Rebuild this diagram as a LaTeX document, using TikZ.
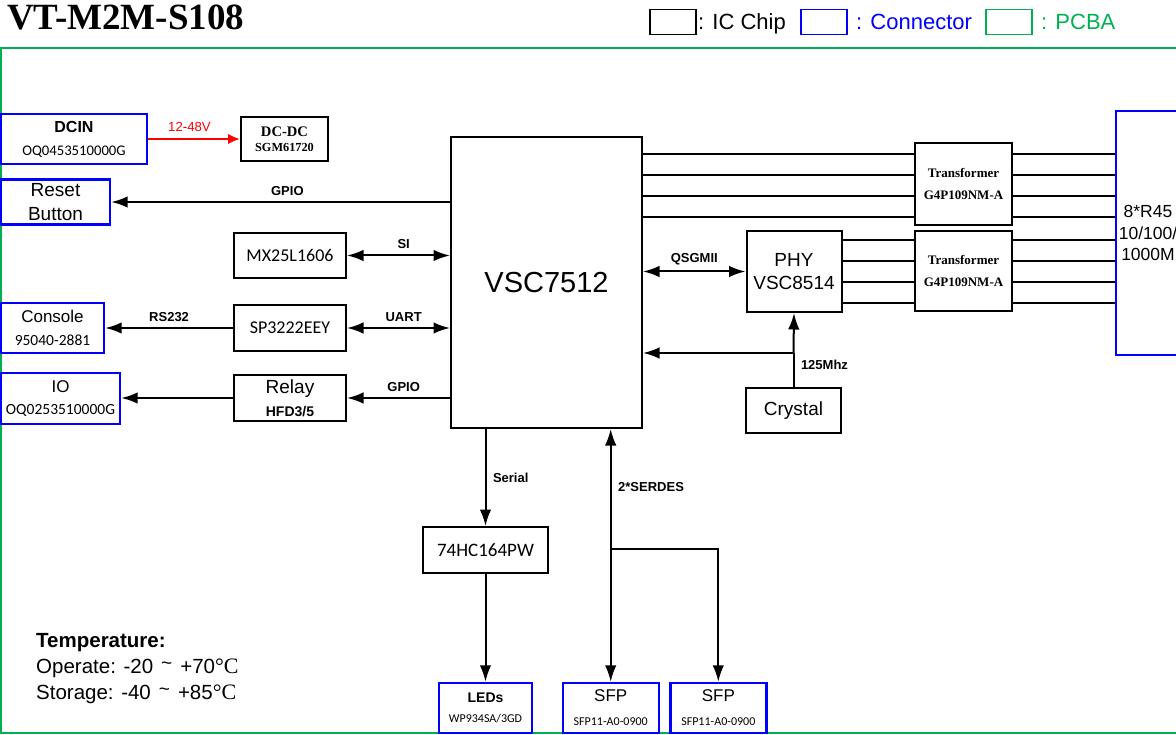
\documentclass[tikz,border=0pt]{standalone}
\usepackage{fontspec}
\setmainfont{Liberation Sans}
\newfontfamily\timesrm{Liberation Serif}
\newfontfamily\calibri{Carlito}
\usetikzlibrary{positioning,arrows.meta}
\newcommand\setfs[2]{\fontsize{#1}{#2}\selectfont}
\newcommand\tld{\hspace*{8pt}{\setfs{19}{19}\raisebox{4pt}{\textasciitilde}}\hspace*{8pt}}
\newcommand\degc{{\timesrm\setfs{22}{26}°C}}
\definecolor{pcbgreen}{RGB}{0,176,80}
\definecolor{conblue}{RGB}{0,0,255}
\tikzset{
  chip/.style={draw, line width=2pt, fill=white, inner sep=0pt, align=center},
  connbox/.style={draw=conblue, line width=2.4pt, fill=white, inner sep=0pt, align=center},
  wire/.style={line width=2pt},
  flowarrow/.style={wire, -{Latex[length=16.5pt,width=11.5pt]}},
  dualarrow/.style={wire, {Latex[length=16.5pt,width=11.5pt]}-{Latex[length=16.5pt,width=11.5pt]}},
  powerarrow/.style={line width=2.2pt, red, -{Latex[length=12pt,width=10.5pt]}},
  siglabel/.style={font=\bfseries\setfs{13}{15}, inner sep=2.5pt},
  keytext/.style={anchor=base west, inner sep=0pt, font=\setfs{22}{24}}
}

\begin{document}
\begin{tikzpicture}[x=1pt, y=-1pt, >=Latex]
  \useasboundingbox (0,0) rectangle (1176,735);
  \node[anchor=base west, inner sep=0pt, font=\timesrm\bfseries\setfs{37}{40}] (title) at (7,29.3) {VT-M2M-S108};
  \node[chip, line width=1.6pt, minimum width=46pt, minimum height=25pt] (keychip) at (673,22) {};
  \node[keytext] (keychiptxt) at (698,30) {: IC Chip};
  \node[connbox, line width=1.8pt, minimum width=46pt, minimum height=25pt] (keyconn) at (824,22) {};
  \node[keytext, text=conblue] (keyconntxt) at (856,30) {: Connector};
  \node[draw=pcbgreen, line width=1.8pt, minimum width=46pt, minimum height=25pt] (keypcba) at (1009,22) {};
  \node[keytext, text=pcbgreen] (keypcbatxt) at (1041,30) {: PCBA};
  \draw[pcbgreen, line width=2.2pt] (1185,48) -| (1,733) -- (1185,733);

  \node[connbox, minimum width=146pt, minimum height=50pt, font=\setfs{16}{23}] (dcin) at (74,139) {{\bfseries DCIN}\\{\calibri\setfs{14.7}{16}OQ0453510000G}};
  \node[chip, minimum width=87pt, minimum height=44pt, font=\timesrm\bfseries\setfs{14.6}{15}] (dcdc) at (284.5,139) {DC-DC\\{\setfs{12.3}{15}SGM61720}};
  \node[connbox, minimum width=109pt, minimum height=45pt, font=\setfs{19}{23.3}] (reset) at (55.5,202) {Reset\\Button};
  \node[chip, minimum width=112pt, minimum height=45pt, font=\calibri\setfs{18}{20}] (flash) at (290,255.5) {MX25L1606};
  \node[chip, minimum width=112pt, minimum height=46pt, font=\calibri\setfs{18}{20}] (uart) at (290,328) {SP3222EEY};
  \node[connbox, minimum width=103pt, minimum height=50pt, font=\setfs{17}{22.7}] (console) at (52.5,328) {Console\\{\calibri\setfs{15.5}{17}95040-2881}};
  \node[chip, minimum width=112pt, minimum height=45pt, font=\setfs{19}{23.4}] (relay) at (290,398) {Relay\\{\bfseries\setfs{14}{16}HFD3/5}};
  \node[connbox, minimum width=119pt, minimum height=51pt, font=\setfs{17}{21.7}] (io) at (60.5,398.5) {IO\\{\calibri\setfs{15.5}{17}OQ0253510000G}};

  \node[chip, minimum width=191pt, minimum height=291pt, font=\setfs{29}{32}] (vsc) at (546.5,282.5) {VSC7512};
  \node[chip, minimum width=97pt, minimum height=82pt, font=\timesrm\bfseries\setfs{13}{22.3}] (xfmr1) at (963.5,184) {Transformer\\G4P109NM-A};
  \node[chip, minimum width=97pt, minimum height=80pt, font=\timesrm\bfseries\setfs{13}{22.3}] (xfmr2) at (963.5,271) {Transformer\\G4P109NM-A};
  \node[connbox, minimum width=64pt, minimum height=244pt, font=\setfs{17.5}{21.7}] (rj) at (1148,233) {8*R45\\10/100/\\1000M};
  \node[chip, minimum width=95pt, minimum height=81pt, font=\setfs{19}{23}] (phy) at (794,271.5) {PHY\\VSC8514};
  \node[chip, minimum width=95pt, minimum height=45.5pt, font=\setfs{19}{22}] (xtal) at (793.5,410.5) {Crystal};

  \node[chip, minimum width=125.5pt, minimum height=46pt, font=\calibri\setfs{19}{22}] (shift) at (485.5,550) {74HC164PW};
  \node[connbox, minimum width=93pt, minimum height=50pt, font=\setfs{14}{19.7}] (leds) at (485.5,708) {{\bfseries LEDs}\\{\calibri\setfs{12}{14}WP934SA/3GD}};
  \node[connbox, minimum width=96pt, minimum height=50pt, font=\setfs{17}{24}] (sfp1) at (610.7,708) {SFP\\{\calibri\setfs{12}{14}SFP11-A0-0900}};
  \node[connbox, minimum width=96pt, minimum height=50pt, font=\setfs{17}{24}] (sfp2) at (718.3,708) {SFP\\{\calibri\setfs{12}{14}SFP11-A0-0900}};

  \node[anchor=west, inner sep=0pt, align=left, font=\setfs{20.5}{26}] (temp) at (36,669) {{\bfseries\setfs{20.5}{26}Temperature:}\\Operate: -20\tld+70\degc\\Storage: -40\tld+85\degc};

  \draw[powerarrow] (dcin.east |- dcdc) -- node[above=4pt, pos=.45, inner sep=2.5pt, text=red, font=\setfs{13.2}{15}]{12-48V} (dcdc.west);
  \draw[flowarrow] (vsc.west |- reset) -- node[siglabel, above=3pt, pos=.48]{GPIO} (reset.east);
  \draw[dualarrow] (flash.east) -- node[siglabel, above=3pt, pos=.55]{SI} (vsc.west |- flash);
  \draw[dualarrow] (uart.east) -- node[siglabel, above=3pt, pos=.55]{UART} (vsc.west |- uart);
  \draw[flowarrow] (uart.west) -- node[siglabel, above=3pt]{RS232} (console.east |- uart);
  \draw[flowarrow] (vsc.west |- relay) -- node[siglabel, above=3pt, pos=.45]{GPIO} (relay.east);
  \draw[flowarrow] (relay.west) -- (io.east |- relay);

  \foreach \y in {154,175,196,217} {
    \draw[wire] (vsc.east |- 0,\y) -- (xfmr1.west |- 0,\y);
    \draw[wire] (xfmr1.east |- 0,\y) -- (rj.west |- 0,\y);
  }
  \foreach \y in {240,261,282,303} {
    \draw[wire] (phy.east |- 0,\y) -- (xfmr2.west |- 0,\y);
    \draw[wire] (xfmr2.east |- 0,\y) -- (rj.west |- 0,\y);
  }
  \draw[dualarrow] (vsc.east |- phy) -- node[siglabel, above=3pt]{QSGMII} (phy.west);
  \coordinate (clk) at (xtal.north |- 0,353);
  \draw[wire] (xtal.north) -- node[siglabel, right, pos=.65, xshift=4pt]{125Mhz} (clk);
  \draw[flowarrow] (clk) -- (phy.south);
  \draw[flowarrow] (clk) -- (vsc.east |- clk);

  \draw[flowarrow] (vsc.south -| shift) -- node[siglabel, right, xshift=4pt]{Serial} (shift.north);
  \draw[flowarrow] (shift.south) -- (leds.north);
  \draw[dualarrow] (vsc.south -| sfp1) -- node[siglabel, right, pos=.23, xshift=4pt]{2*SERDES} (sfp1.north);
  \coordinate (split) at (sfp1.north |- 0,549);
  \draw[flowarrow] (split) -| (sfp2.north);
\end{tikzpicture}
\end{document}
